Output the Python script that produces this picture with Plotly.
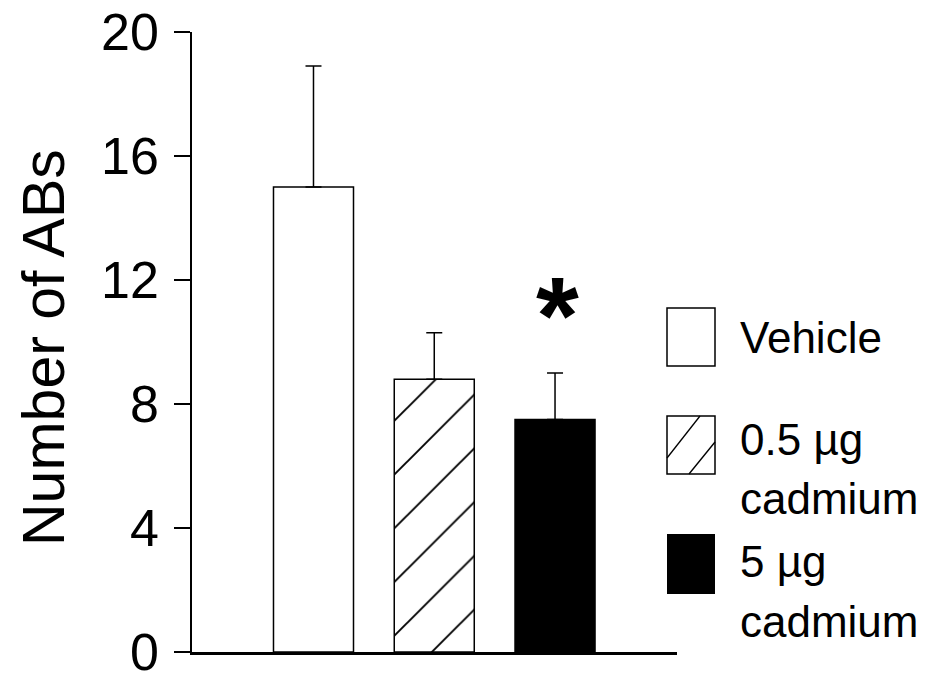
import plotly.graph_objects as go

# ---- data ----
groups = ["Vehicle", "0.5 µg cadmium", "5 µg cadmium"]
means = [15.0, 8.8, 7.5]
sem = [3.9, 1.5, 1.5]
y_ticks = [0, 4, 8, 12, 16, 20]
y_label = "Number of ABs"
legend_lines = [["Vehicle"], ["0.5 µg", "cadmium"], ["5 µg", "cadmium"]]

W, H = 936, 679
L, R, T, B = 192, 677, 32, 652  # plot area in pixels

def px(x):
    return (x - L) / (R - L)

def py(y):
    return (B - y) / (B - T)

fills = ["white", "white", "black"]
patterns = ["", "/", ""]

fig = go.Figure()
for i, g in enumerate(groups):
    fig.add_trace(go.Bar(
        x=[i], y=[means[i]], width=0.6625, name=g,
        marker=dict(color=fills[i], line=dict(color="black", width=1.5),
                    pattern=dict(shape=patterns[i], fgcolor="black", bgcolor="white",
                                 fgopacity=1, size=38, solidity=0.05, fillmode="overlay")),
        error_y=dict(type="data", array=[sem[i]], arrayminus=[0], symmetric=False,
                     color="black", thickness=1.5, width=8),
        showlegend=False,
    ))

tickfont = dict(family="Liberation Sans, Arial, sans-serif", size=52, color="black")
fig.update_layout(
    width=W, height=H,
    margin=dict(l=L, r=W - R, t=T, b=H - B, pad=0),
    plot_bgcolor="white", paper_bgcolor="white",
    xaxis=dict(range=[-1.006, 3.010], showticklabels=False, ticks="", showgrid=False,
               zeroline=False, showline=True, linecolor="black", linewidth=2.5,
               automargin=False),
    yaxis=dict(range=[0, 20], tickvals=y_ticks, ticks="outside", ticklen=16, tickwidth=1.5,
               tickcolor="black", showgrid=False, zeroline=False, showline=True,
               linecolor="black", linewidth=1.5, tickfont=tickfont, ticklabelstandoff=5,
               automargin=False, ticklabeloverflow="allow"),
)

# y-axis title
fig.add_annotation(xref="paper", yref="paper", x=px(44), y=py(348), text=y_label,
                   textangle=-90, showarrow=False, xanchor="center", yanchor="middle",
                   font=dict(family="Liberation Sans, Arial, sans-serif", size=59, color="black"))

# significance asterisk
fig.add_annotation(x=2, y=10.9, xref="x", yref="y", text="<b>*</b>", showarrow=False,
                   xshift=2, yanchor="middle",
                   font=dict(family="Liberation Sans, Arial, sans-serif", size=110, color="black"))

# legend keys
boxes = [(308, 366), (416, 474), (534, 594)]
for i, (y0, y1) in enumerate(boxes):
    fig.add_shape(type="rect", xref="paper", yref="paper", x0=px(667), x1=px(715),
                  y0=py(y1), y1=py(y0), fillcolor=fills[i],
                  line=dict(color="black", width=1.5 if i != 2 else 0))
# hatch lines in second key
fig.add_shape(type="line", xref="paper", yref="paper", x0=px(667), y0=py(458),
              x1=px(700), y1=py(416), line=dict(color="black", width=1.3))
fig.add_shape(type="line", xref="paper", yref="paper", x0=px(689), y0=py(474),
              x1=px(715), y1=py(442), line=dict(color="black", width=1.3))

legfont = dict(family="Liberation Sans, Arial, sans-serif", size=44, color="black")
line_y = [[337], [439, 498], [561, 621]]
for lines, ys in zip(legend_lines, line_y):
    for txt, yy in zip(lines, ys):
        fig.add_annotation(xref="paper", yref="paper", x=px(738), y=py(yy), text=txt,
                           showarrow=False, xanchor="left", yanchor="middle", font=legfont)

fig.write_html("out.html", config={"displayModeBar": False},
               post_script="document.body.style.margin='0';document.body.style.overflow='hidden';")
